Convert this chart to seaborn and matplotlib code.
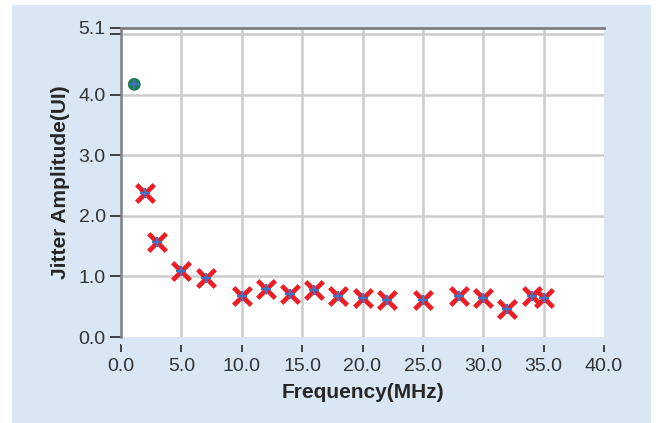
import numpy as np
import pandas as pd
import matplotlib
matplotlib.use("Agg")
import matplotlib.pyplot as plt
import seaborn as sns
from matplotlib.patches import Rectangle

# measured points (red x with blue +)
freq_mhz = [2, 3, 5, 7, 10, 12, 14, 16, 18, 20, 22, 25, 28, 30, 32, 34, 35]
jitter_ui = [2.37, 1.57, 1.09, 0.98, 0.68, 0.79, 0.71, 0.77, 0.68, 0.64,
             0.61, 0.61, 0.68, 0.64, 0.46, 0.67, 0.64]

# single green point
green_freq = [1.1]
green_jitter = [4.17]

x_ticks = [0, 5, 10, 15, 20, 25, 30, 35, 40]
y_ticks = [0, 1, 2, 3, 4, 5.1]

df = pd.DataFrame({"freq": freq_mhz, "jitter": jitter_ui})
df_g = pd.DataFrame({"freq": green_freq, "jitter": green_jitter})

sns.set_style("white")
plt.rcParams['font.family'] = ['Liberation Sans', 'DejaVu Sans']

W, H = 656, 423
fig = plt.figure(figsize=(W / 100, H / 100), dpi=100, facecolor="white")
fig.patches.append(Rectangle((12 / W, 0), (651 - 12) / W, (423 - 5) / H,
                             transform=fig.transFigure, facecolor="#d9e7f4",
                             edgecolor="none", zorder=-5))

ax = fig.add_axes([121 / W, (423 - 337) / H, (604 - 121) / W, (337 - 28) / H])
ax.set_zorder(2)
ax.set_facecolor("white")

# grid
for xv in x_ticks[1:-1]:
    ax.axvline(xv, color="#cccccc", lw=1.8, zorder=1)
for yv in [1, 2, 3, 4, 5]:
    ax.axhline(yv, color="#cccccc", lw=1.8, zorder=1)

sns.scatterplot(data=df, x="freq", y="jitter", marker="x", color="#ee1c24",
                s=160, linewidth=3.4, ax=ax, zorder=3)
sns.scatterplot(data=df_g, x="freq", y="jitter", marker="o", color="#1e7a4a",
                s=85, edgecolor="none", ax=ax, zorder=3)
allpts = pd.concat([df, df_g])
sns.scatterplot(data=allpts, x="freq", y="jitter", marker="+", color="#3f74c4",
                s=55, linewidth=1.7, ax=ax, zorder=4)

ax.set_xlim(0, 40)
ax.set_ylim(0, 5.1)
ax.set_xticks(x_ticks)
ax.set_xticklabels([f"{v:.1f}" for v in x_ticks])
ax.set_yticks(y_ticks)
ax.set_yticklabels([f"{v:.1f}" for v in y_ticks])
ax.set_yticks([5.0], minor=True)

ax.tick_params(axis="both", which="both", direction="out", color="#333333",
               labelcolor="#333333", labelsize=14, width=1.3,
               bottom=True, left=True)
ax.tick_params(axis="y", which="both", length=8, pad=3)
ax.tick_params(axis="x", length=6, pad=4)

for side in ["right"]:
    ax.spines[side].set_visible(False)
ax.spines["bottom"].set_position(("outward", 5))
ax.spines["bottom"].set_color("#d9e7f4")
ax.spines["left"].set_color("#7f7f7f")
ax.spines["left"].set_linewidth(1.8)
ax.spines["top"].set_color("#7f7f7f")
ax.spines["top"].set_linewidth(2)

ax.set_xlabel("Frequency(MHz)", fontsize=15, fontweight="bold", labelpad=6)
ax.set_ylabel("Jitter Amplitude(UI)", fontsize=15, fontweight="bold", labelpad=6)

fig.savefig("out.png", dpi=100, facecolor=fig.get_facecolor())
